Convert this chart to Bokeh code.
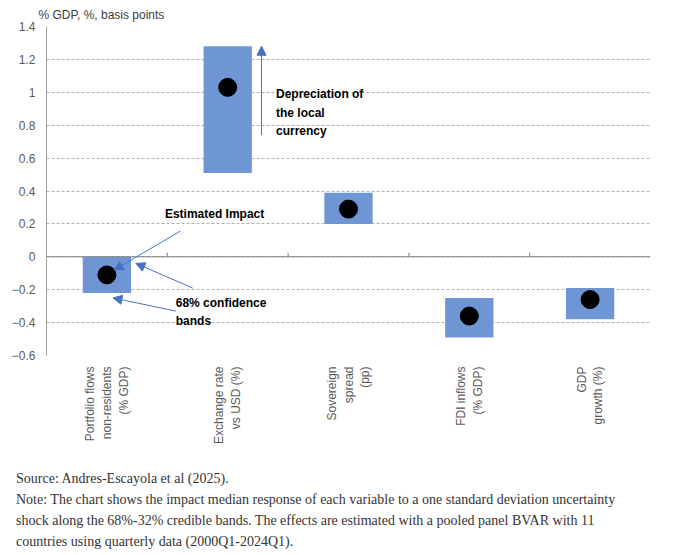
import math
from bokeh.embed import file_html
from bokeh.resources import INLINE
from bokeh.layouts import column
from bokeh.models import Div, Span, Arrow, NormalHead, Label, FixedTicker
from bokeh.plotting import figure

categories = ["Portfolio flows\nnon-residents\n(% GDP)", "Exchange rate\nvs USD (%)",
              "Sovereign\nspread\n(pp)", "FDI inflows\n(% GDP)", "GDP\ngrowth (%)"]
band_low = [-0.22, 0.51, 0.20, -0.49, -0.38]
band_high = [0.0, 1.28, 0.39, -0.25, -0.19]
median = [-0.11, 1.03, 0.29, -0.36, -0.26]
boundaries = [1, 2, 3, 4]

FONT = "Liberation Sans"
BLUE = "#4472c4"

p = figure(width=660, height=446, x_range=categories, y_range=(-0.6, 1.4),
           output_backend="svg", toolbar_location=None,
           title="% GDP, %, basis points")
p.min_border_left = 46
p.min_border_right = 10
p.min_border_top = 22
p.outline_line_color = None
p.title.text_font = FONT
p.title.text_font_style = "normal"
p.title.text_font_size = "12px"
p.title.text_color = "#404040"
p.title.offset = -8

p.xgrid.grid_line_color = None
p.ygrid.grid_line_color = "#b0b0b0"
p.ygrid.grid_line_dash = "3 2"
p.yaxis.ticker = FixedTicker(ticks=[-0.6, -0.4, -0.2, 0, 0.2, 0.4, 0.6, 0.8, 1, 1.2, 1.4])
p.yaxis.major_tick_line_color = None
p.yaxis.minor_tick_line_color = None
p.yaxis.axis_line_color = "#a0a0a0"
p.yaxis.major_label_text_font = FONT
p.yaxis.major_label_text_font_size = "12px"
p.yaxis.major_label_text_color = "#595959"

p.xaxis.axis_line_color = None
p.xaxis.major_tick_line_color = None
p.xaxis.major_label_orientation = math.pi / 2
p.xaxis.major_label_text_font = FONT
p.xaxis.major_label_text_font_size = "12px"
p.xaxis.major_label_text_color = "#595959"

p.vbar(x=categories, top=band_high, bottom=band_low, width=0.4,
       fill_color="#6f96d4", line_color=None)
p.add_layout(Span(location=0, dimension="width", line_color="#808080", line_width=1))
p.segment(x0=boundaries, x1=boundaries, y0=[0] * 4, y1=[0.025] * 4, line_color="#808080")
p.scatter(x=categories, y=median, size=18, color="black")

head = dict(size=9, fill_color=BLUE, line_color=BLUE)
p.add_layout(Arrow(end=NormalHead(**head), x_start=1.78, y_start=0.74, x_end=1.78, y_end=1.28,
                   line_color=BLUE, line_width=1))
p.add_layout(Arrow(end=NormalHead(**head), x_start=1.11, y_start=0.157, x_end=0.56, y_end=-0.08,
                   line_color=BLUE, line_width=1))
p.add_layout(Arrow(end=NormalHead(**head), x_start=1.21, y_start=-0.19, x_end=0.74, y_end=-0.04,
                   line_color=BLUE, line_width=1))
p.add_layout(Arrow(end=NormalHead(**head), x_start=1.07, y_start=-0.33, x_end=0.55, y_end=-0.25,
                   line_color=BLUE, line_width=1))

lab = dict(text_font=FONT, text_font_size="12px", text_font_style="bold", text_color="black",
           text_line_height=1.3)
p.add_layout(Label(x=1.9, y=1.03, text="Depreciation of\nthe local\ncurrency",
                   text_baseline="top", **lab))
p.add_layout(Label(x=0.98, y=0.26, text="Estimated Impact", text_baseline="middle", **lab))
p.add_layout(Label(x=1.07, y=-0.24, text="68% confidence\nbands", text_baseline="top", **lab))

note = Div(text="Source: Andres-Escayola et al (2025).<br>"
                "Note: The chart shows the impact median response of each variable to a one standard deviation "
                "uncertainty shock along the 68%-32% credible bands. The effects are estimated with a pooled panel "
                "BVAR with 11 countries using quarterly data (2000Q1-2024Q1).",
           width=620, styles={"font-family": "Liberation Serif", "font-size": "14px",
                              "color": "#333333", "line-height": "21px",
                              "margin-left": "16px", "margin-top": "22px"})

open("out.html", "w").write(file_html(column(p, note), INLINE))
